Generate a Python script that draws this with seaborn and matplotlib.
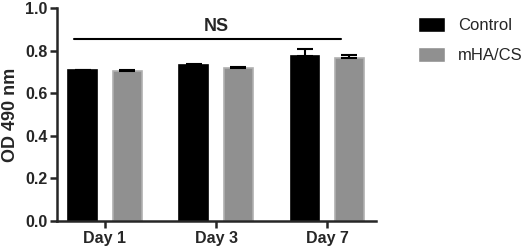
import matplotlib
matplotlib.use("Agg")
import matplotlib.pyplot as plt
import seaborn as sns
import pandas as pd
import numpy as np

days = ["Day 1", "Day 3", "Day 7"]
groups = ["Control", "mHA/CS"]
control_vals = [0.709, 0.734, 0.775]
mha_vals = [0.705, 0.720, 0.767]
control_err = [0.002, 0.003, 0.034]
mha_err = [0.004, 0.005, 0.014]
yticks = [0.0, 0.2, 0.4, 0.6, 0.8, 1.0]

sns.set_style("ticks")
plt.rcParams["font.family"] = ["Liberation Sans", "DejaVu Sans"]

df = pd.DataFrame({
    "day": days * 2,
    "group": [groups[0]] * 3 + [groups[1]] * 3,
    "od": control_vals + mha_vals,
    "err": control_err + mha_err,
})

fig = plt.figure(figsize=(5.29, 2.52), dpi=100)
ax = fig.add_axes([0.108, 0.123, 0.603, 0.845])

palette = {"Control": "#000000", "mHA/CS": "#909090"}
sns.barplot(data=df, x="day", y="od", hue="group", order=days, hue_order=groups,
            palette=palette, width=0.8, gap=0.35, errorbar=None, ax=ax,
            saturation=1, legend=True)

edgecols = {"Control": "#000000", "mHA/CS": "#b0b0b0"}
for cont, g in zip(ax.containers, groups):
    sub = df[df.group == g].set_index("day").loc[days]
    for patch, (v, e) in zip(cont.patches, zip(sub.od, sub.err)):
        patch.set_edgecolor(edgecols[g])
        patch.set_linewidth(1.2)
        cx = patch.get_x() + patch.get_width() / 2
        ax.errorbar([cx], [v], yerr=[[0], [e]], fmt="none", ecolor="black",
                    elinewidth=1.5, capsize=5.5, capthick=1.5, zorder=3)

# NS bracket
ax.plot([-0.28, 2.12], [0.856, 0.856], color="black", lw=1.5, clip_on=False)
ax.text(1.0, 0.872, "NS", ha="center", va="bottom", fontsize=13, fontweight="bold")

ax.set_xlim(-0.43, 2.44)
ax.set_ylim(0, 1.0)
ax.set_yticks(yticks)
ax.set_yticklabels([f"{t:.1f}" for t in yticks])
ax.set_xlabel("")
ax.set_ylabel("OD 490 nm", fontsize=13, fontweight="bold", labelpad=4)
for lbl in ax.get_xticklabels() + ax.get_yticklabels():
    lbl.set_fontweight("bold")
    lbl.set_fontsize(11.5)
ax.tick_params(width=1.8, length=5, pad=2)
for s in ["left", "bottom"]:
    ax.spines[s].set_linewidth(1.8)
sns.despine(ax=ax)

handles, labels = ax.get_legend_handles_labels()
ax.legend(handles, labels, loc="upper left", bbox_to_anchor=(1.085, 1.03),
          frameon=False, fontsize=12, handlelength=1.6, handleheight=1.0,
          labelspacing=0.85, handletextpad=0.8)

fig.savefig("out.png", dpi=100)
